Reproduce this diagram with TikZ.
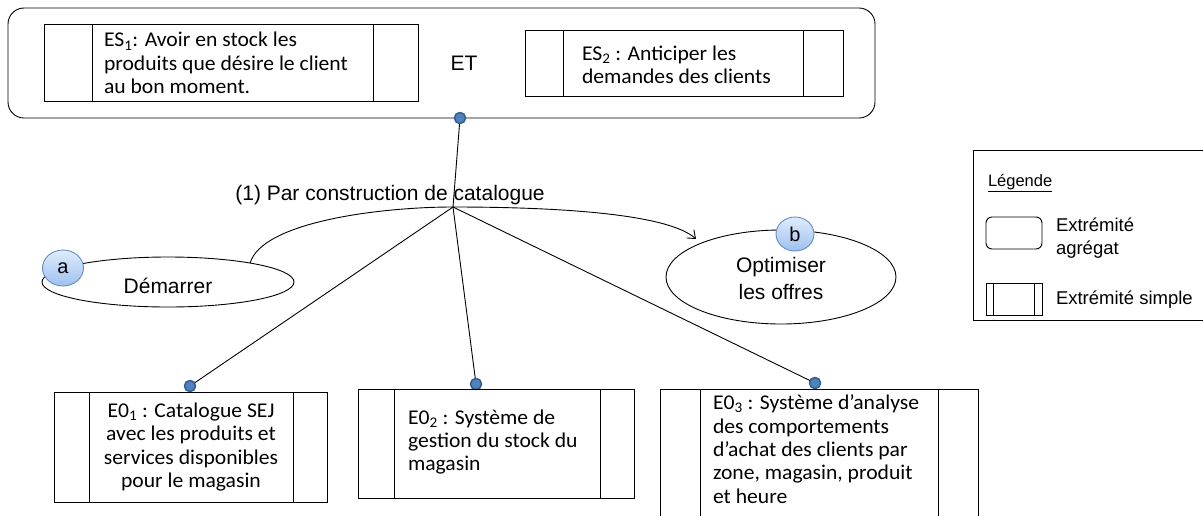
\documentclass[tikz,border=0pt]{standalone}
\usepackage{fontspec}
\setmainfont[FakeStretch=1.03]{Carlito}
\newfontfamily\arialf{Liberation Sans}
\usetikzlibrary{arrows.meta,shapes.geometric,calc}
\definecolor{dotblue}{RGB}{79,129,189}
\definecolor{dotedge}{RGB}{52,92,142}
\definecolor{circtop}{RGB}{224,236,252}
\definecolor{circbot}{RGB}{158,192,240}
\definecolor{circedge}{RGB}{100,140,196}
\tikzset{
  every node/.style={inner sep=0pt, outer sep=0pt},
  ln/.style={line width=0.9pt, black},
  boxsimple/.style n args={4}{draw, line width=0.9pt, rectangle, anchor=north west,
     minimum width=#1, minimum height=#2,
     path picture={
       \draw[line width=0.9pt] ([xshift=#3]path picture bounding box.north west) -- ([xshift=#3]path picture bounding box.south west);
       \draw[line width=0.9pt] ([xshift=-#4]path picture bounding box.north east) -- ([xshift=-#4]path picture bounding box.south east);}},
  cal/.style={font=\fontsize{21}{23.3}\selectfont},
  ari/.style={font=\arialf\fontsize{21}{27}\selectfont},
  leg/.style={font=\arialf\fontsize{18.5}{23}\selectfont},
  dot/.style={circle, fill=dotblue, draw=dotedge, line width=1.3pt, minimum size=11pt},
  letter/.style={ellipse, draw=circedge, line width=0.9pt, top color=circtop, bottom color=circbot,
     font=\arialf\fontsize{20}{24}\selectfont},
  oval/.style={ellipse, draw, line width=0.9pt},
}
\begin{document}
\begin{tikzpicture}[x=1pt,y=-1pt]
\useasboundingbox (0,0) rectangle (1203,515);
\clip (0,0) rectangle (1203,515);

% top aggregate
\node[draw, line width=0.9pt, rounded corners=16pt, anchor=north west, minimum width=867pt, minimum height=110pt] (top) at (8,8) {};
\node[boxsimple={374pt}{77pt}{48pt}{45pt}] (es1) at (44,24) {};
\node[cal, align=left, anchor=west] (es1t) at (104,63) {ES\textsubscript{1}: Avoir en stock les\\produits que désire le client\\au bon moment.};
\node[boxsimple={318pt}{66pt}{38pt}{40pt}] (es2) at (525,30) {};
\node[cal, align=left, anchor=west] (es2t) at (582,65) {ES\textsubscript{2} : Anticiper les\\demandes des clients};
\node[ari] (et) at (464,63) {ET};

% connectors
\coordinate (j) at (453,207);
\node[dot] (d0) at (460,118) {};
\node[dot] (d1) at (190,386) {};
\node[dot] (d2) at (476,384) {};
\node[dot] (d3) at (815,383) {};

% ellipses
\node[oval, minimum width=252pt, minimum height=50pt] (dem) at (168,282) {};
\node[ari] (demt) at (168,286) {Démarrer};
\node[oval, minimum width=230pt, minimum height=94pt] (opt) at (781,277) {};
\node[ari, align=center] (optt) at (781,278) {Optimiser\\les offres};
\coordinate (tip) at (696,239);

\draw[ln] (d0.center) -- (j);
\draw[ln] (j) -- (d1.center);
\draw[ln] (j) -- (d2.center);
\draw[ln] (j) -- (d3.center);
\draw[ln, -{Straight Barb[length=7pt,width=11pt]}] (dem.13) .. controls (262,222) and (380,207) .. (j) .. controls (560,207) and (668,214) .. (tip);

\node[ari] (lbl) at (390,195) {(1) Par construction de catalogue};

\node[letter, minimum width=41pt, minimum height=36pt] (a) at (63,268) {a};
\node[letter, minimum width=38pt, minimum height=34pt] (b) at (795,234) {b};

% redraw dots on top
\node[dot] at (d0) {};
\node[dot] at (d1) {};
\node[dot] at (d2) {};
\node[dot] at (d3) {};

% bottom boxes
\node[boxsimple={273pt}{110pt}{35pt}{34pt}] (e1) at (54,392) {};
\node[cal, align=center] (e1t) at (191,447) {E0\textsubscript{1} : Catalogue SEJ\\avec les produits et\\services disponibles\\pour le magasin};
\node[boxsimple={276pt}{109pt}{36pt}{34pt}] (e2) at (358,389) {};
\node[cal, align=left, anchor=west] (e2t) at (408,442) {E0\textsubscript{2} : Système de\\gestion du stock du\\magasin};
\node[boxsimple={318pt}{150pt}{40pt}{40pt}] (e3) at (660,389) {};
\node[cal, align=left, anchor=north west] (e3t) at (713,395) {E0\textsubscript{3} : Système d’analyse\\des comportements\\d’achat des clients par\\zone, magasin, produit\\et heure};

% legend
\draw[line width=0.9pt] (973,150) rectangle (1220,320);
\node[leg, anchor=west, font=\arialf\fontsize{16.5}{20}\selectfont] (lgt) at (988,183) {\underline{Légende}};
\node[draw, line width=0.9pt, rounded corners=6pt, anchor=north west, minimum width=56pt, minimum height=32pt] (lagg) at (986,217) {};
\node[leg, align=left, anchor=west] (laggt) at (1056,238) {Extrémité\\agrégat};
\node[boxsimple={56pt}{32pt}{7pt}{8pt}] (lsim) at (986,283) {};
\node[leg, anchor=west] (lsimt) at (1056,300) {Extrémité simple};
\end{tikzpicture}
\end{document}
